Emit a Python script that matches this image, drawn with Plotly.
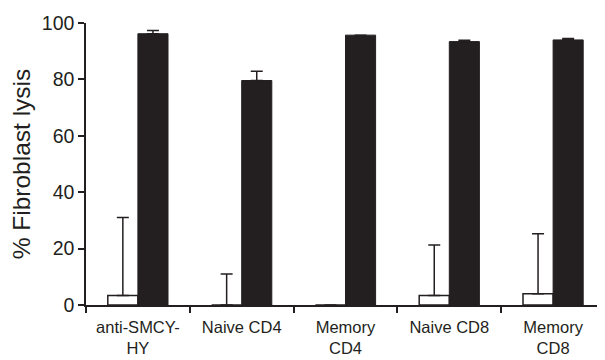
import plotly.graph_objects as go

categories = ["anti-SMCY-<br>HY", "Naive CD4", "Memory<br>CD4", "Naive CD8", "Memory<br>CD8"]
white_vals = [3.4, 0, 0, 3.4, 4.0]
white_err = [27.6, 11.0, None, 17.9, 21.3]
black_vals = [96.2, 79.6, 95.7, 93.4, 94.0]
black_err = [1.1, 3.3, None, 0.5, 0.5]

ink = "#231f20"

fig = go.Figure()
fig.add_trace(go.Bar(
    x=categories, y=white_vals,
    marker=dict(color="white", line=dict(color=ink, width=1.5)),
    error_y=dict(type="data", symmetric=False, array=white_err, arrayminus=[0]*5,
                 color=ink, thickness=1.5, width=6),
    showlegend=False,
))
fig.add_trace(go.Bar(
    x=categories, y=black_vals,
    marker=dict(color=ink, line=dict(color=ink, width=1)),
    error_y=dict(type="data", symmetric=False, array=black_err, arrayminus=[0]*5,
                 color=ink, thickness=1.5, width=6),
    showlegend=False,
))

fig.update_layout(
    width=605, height=360,
    margin=dict(l=78, r=8, t=15, b=63),
    paper_bgcolor="white", plot_bgcolor="white",
    barmode="group", bargap=0.42, bargroupgap=0,
    font=dict(family="Liberation Sans, Arial, sans-serif", color=ink, size=16),
)
fig.update_xaxes(
    type="category", range=[-0.5, 4.5], automargin=False,
    showline=True, linecolor=ink, linewidth=1.5,
    ticks="outside", tickson="boundaries", ticklen=6, tickcolor=ink, tickwidth=1.5,
    tickfont=dict(size=16.5), ticklabelstandoff=6, showgrid=False,
)
fig.update_yaxes(
    range=[0, 100], tickvals=[0, 20, 40, 60, 80, 100], automargin=False,
    showline=True, linecolor=ink, linewidth=1.5,
    ticks="outside", ticklen=6, tickcolor=ink, tickwidth=1.5,
    tickfont=dict(size=19.5), showgrid=False, zeroline=False,
    title=dict(text="% Fibroblast lysis", font=dict(size=24.5), standoff=9),
)

fig.write_html("out.html")
